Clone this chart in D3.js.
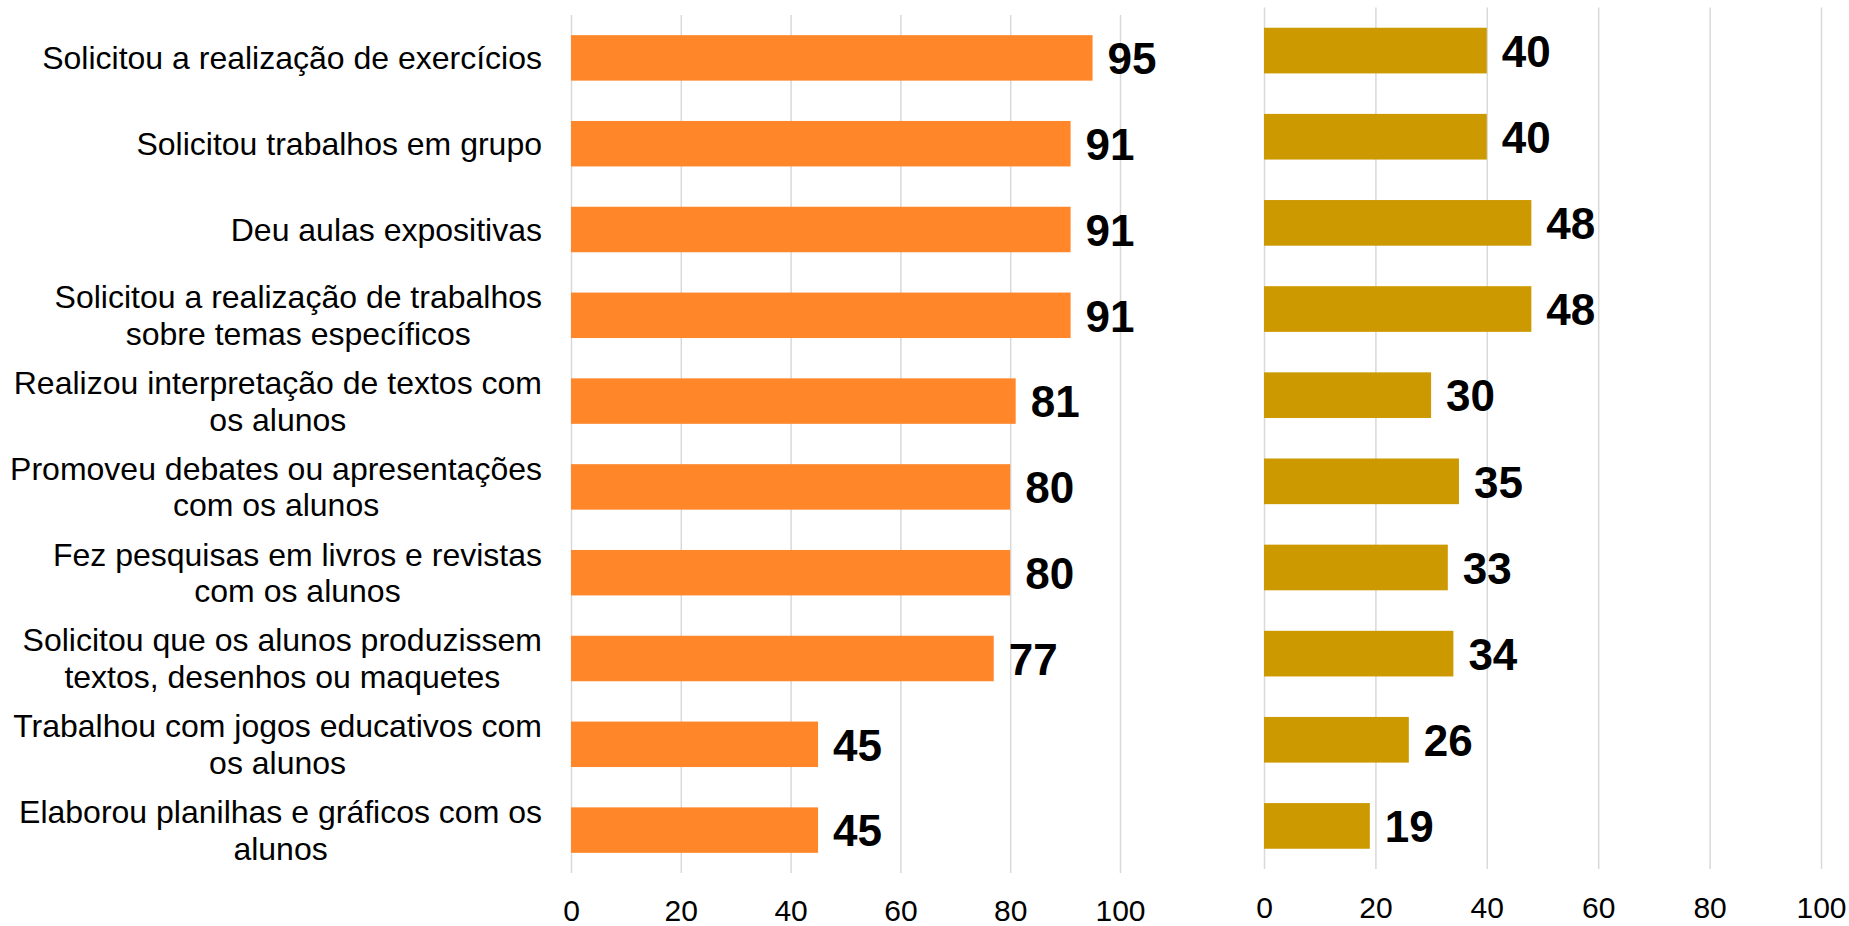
<!DOCTYPE html>
<html>
<head>
<meta charset="utf-8">
<script src="https://cdn.jsdelivr.net/npm/d3@7"></script>
<style>
  body { margin: 0; background: #fff; }
  svg { display: block; font-family: "Liberation Sans", Arial, sans-serif; }
  .grid line { stroke: #d9d9d9; stroke-width: 1.5; }
  .grid path { display: none; }
  .axis path, .axis line { display: none; }
  .axis text { font-size: 30px; fill: #000; font-family: "Liberation Sans", Arial, sans-serif; }
</style>
</head>
<body>
<div id="chart"></div>
<script>
// categories, top to bottom ("|" = line break)
const categories = [
  "Solicitou a realização de exercícios",
  "Solicitou trabalhos em grupo",
  "Deu aulas expositivas",
  "Solicitou a realização de trabalhos|sobre temas específicos",
  "Realizou interpretação de textos com|os alunos",
  "Promoveu debates ou apresentações|com os alunos",
  "Fez pesquisas em livros e revistas|com os alunos",
  "Solicitou que os alunos produzissem|textos, desenhos ou maquetes",
  "Trabalhou com jogos educativos com|os alunos",
  "Elaborou planilhas e gráficos com os|alunos"
];
const leftValues = [95, 91, 91, 91, 81, 80, 80, 77, 45, 45];
const rightValues = [40, 40, 48, 48, 30, 35, 33, 34, 26, 19];
const tickValues = [0, 20, 40, 60, 80, 100];

const width = 1849, height = 926;
const svg = d3.select("#chart").append("svg")
  .attr("width", width)
  .attr("height", height);

// panel layout
const panels = [
  { values: leftValues, color: "#ff8629", x0: 571, x1: 1120, y0: 15, y1: 873, pad: 27 },
  { values: rightValues, color: "#cc9900", x0: 1264, x1: 1821, y0: 7.5, y1: 869, pad: 28 }
];

panels.forEach(p => {
  const x = d3.scaleLinear().domain([0, 100]).range([p.x0, p.x1]);
  const y = d3.scaleBand()
    .domain(d3.range(categories.length))
    .range([p.y0, p.y1])
    .paddingInner(0.47)
    .paddingOuter(0.235);

  const g = svg.append("g");

  // vertical gridlines
  g.append("g")
    .attr("class", "grid")
    .attr("transform", `translate(0,${p.y1})`)
    .call(d3.axisBottom(x).tickValues(tickValues).tickSize(-(p.y1 - p.y0)).tickFormat(""));

  // x axis labels
  g.append("g")
    .attr("class", "axis")
    .attr("transform", `translate(0,${p.y1})`)
    .call(d3.axisBottom(x).tickValues(tickValues).tickSize(0).tickPadding(p.pad));

  // bars
  g.selectAll(".bar")
    .data(p.values)
    .enter().append("rect")
    .attr("class", "bar")
    .attr("x", x(0))
    .attr("y", (d, i) => y(i))
    .attr("width", d => x(d) - x(0))
    .attr("height", y.bandwidth())
    .attr("fill", p.color);

  // value labels
  g.selectAll(".val")
    .data(p.values)
    .enter().append("text")
    .attr("class", "val")
    .attr("x", d => x(d) + 15)
    .attr("y", (d, i) => y(i) + y.bandwidth() / 2)
    .attr("dy", "0.37em")
    .style("font-size", "44px")
    .style("font-weight", "bold")
    .text(d => d);

  p.yScale = y;
});

// category labels: block right-aligned, lines centred inside the block
const labelRight = 542;
const lineH = 36.6;
const yLeft = panels[0].yScale;
categories.forEach((c, i) => {
  const lines = c.split("|");
  const cy = yLeft(i) + yLeft.bandwidth() / 2;
  const t = svg.append("text")
    .style("font-size", "32px")
    .attr("text-anchor", "middle");
  lines.forEach((ln, j) => {
    t.append("tspan")
      .attr("x", 0)
      .attr("y", cy + (j - (lines.length - 1) / 2) * lineH)
      .attr("dy", "0.35em")
      .text(ln);
  });
  const w = t.node().getBBox().width;
  t.selectAll("tspan").attr("x", labelRight - w / 2);
});
</script>
</body>
</html>
